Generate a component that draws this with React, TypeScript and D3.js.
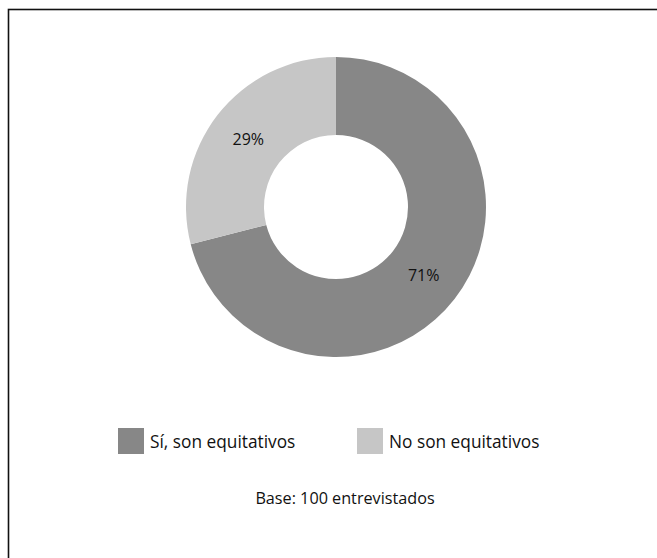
import React from "react";
import * as d3 from "d3";

const categories = ["Sí, son equitativos", "No son equitativos"];
const values = [71, 29];
const colors = ["#878787", "#c6c6c6"];
const baseNote = "Base: 100 entrevistados";

const W = 657;
const H = 558;
const FONT = "'Open Sans', 'Noto Sans', sans-serif";

export default function App() {
  const cx = 336;
  const cy = 207;
  const outerR = 150;
  const innerR = 72;

  const pie = d3.pie<number>().sort(null).value((d) => d);
  const arcs = pie(values);
  const arcGen = d3.arc<d3.PieArcDatum<number>>().innerRadius(innerR).outerRadius(outerR);
  const total = d3.sum(values);

  const legendX = [118, 357];
  const legendY = 428;
  const sq = 26;

  return (
    <svg
      width={W}
      height={H}
      style={{ position: "absolute", left: 0, top: 0, background: "#fff" }}
      fontFamily={FONT}
    >
      <rect x={0} y={0} width={W} height={H} fill="#fff" />
      <rect x={8.5} y={9.5} width={W + 20} height={H + 20} fill="none" stroke="#111" strokeWidth={1.6} />
      <g transform={`translate(${cx},${cy})`}>
        {arcs.map((a, i) => (
          <path key={i} d={arcGen(a) || ""} fill={colors[i]} />
        ))}
        {arcs.map((a, i) => {
          const [x, y] = arcGen.centroid(a);
          return (
            <text
              key={"l" + i}
              x={x}
              y={y}
              textAnchor="middle"
              dominantBaseline="central"
              fontSize={16}
              fill="#111"
            >
              {Math.round((a.data / total) * 100) + "%"}
            </text>
          );
        })}
      </g>
      {categories.map((c, i) => (
        <g key={"lg" + i}>
          <rect x={legendX[i]} y={legendY} width={sq} height={sq} fill={colors[i]} />
          <text
            x={legendX[i] + sq + 6}
            y={legendY + sq / 2}
            dominantBaseline="central"
            fontSize={17.3}
            fill="#111"
          >
            {c}
          </text>
        </g>
      ))}
      <text x={345} y={498} textAnchor="middle" dominantBaseline="central" fontSize={16.2} fill="#111">
        {baseNote}
      </text>
    </svg>
  );
}
